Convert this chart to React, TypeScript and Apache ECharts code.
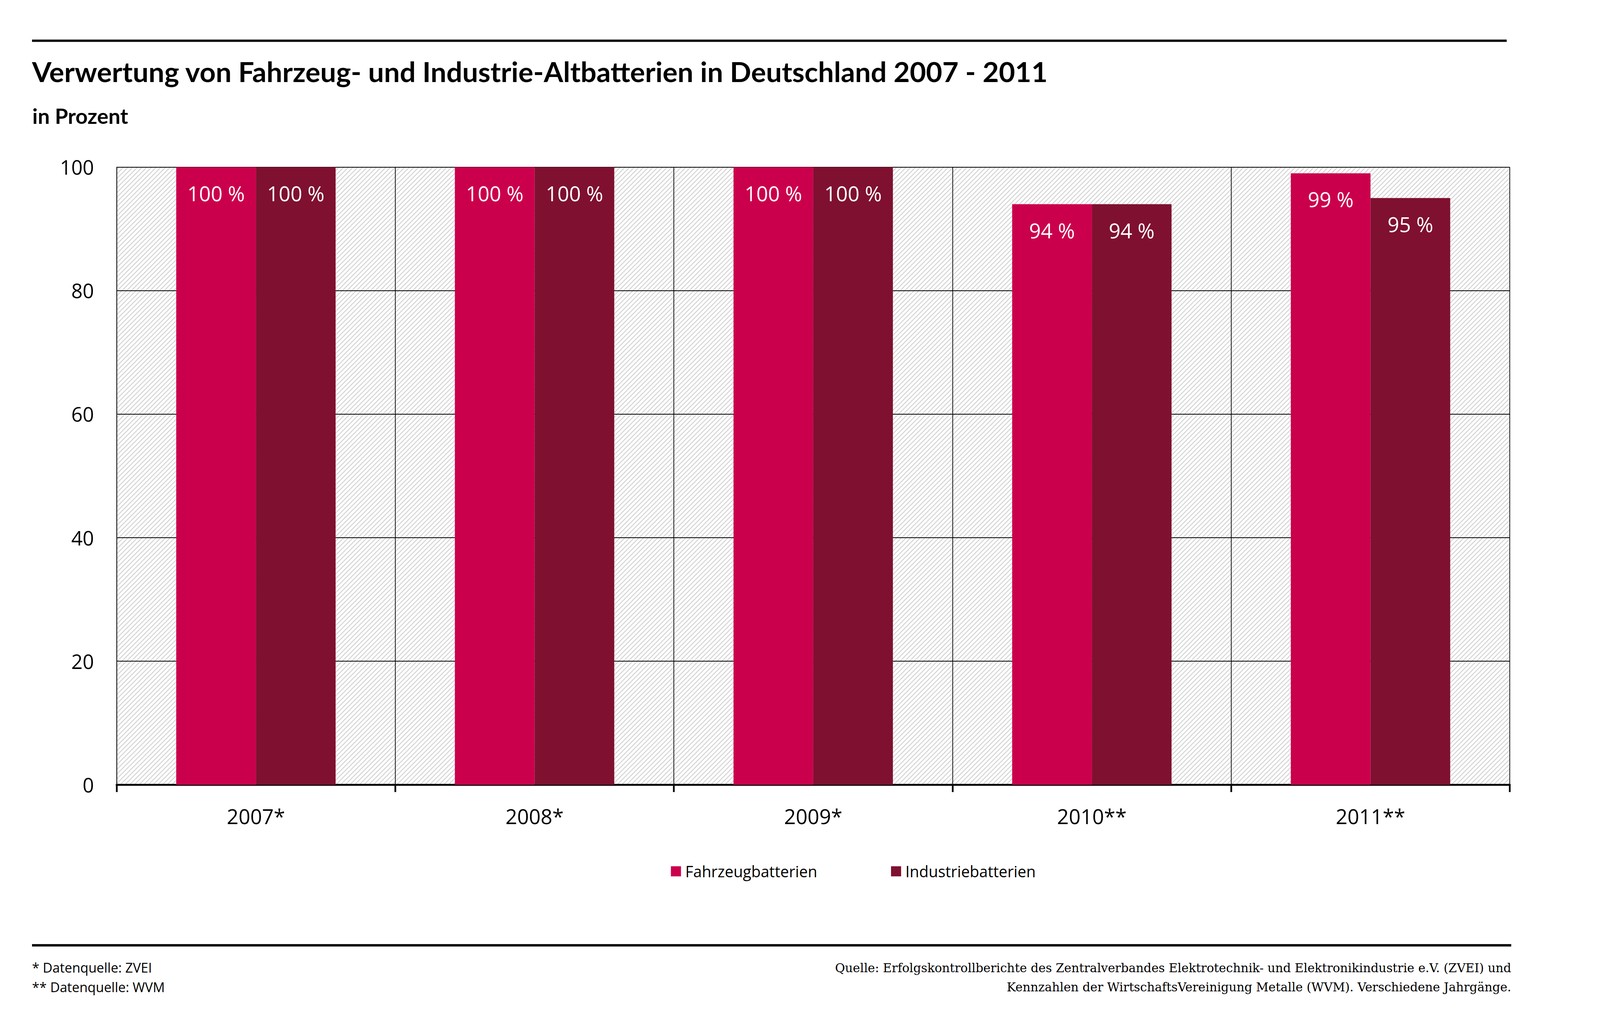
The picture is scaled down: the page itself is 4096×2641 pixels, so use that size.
import React, { useEffect, useRef } from "react";
import * as echarts from "echarts";

const categories = ["2007*", "2008*", "2009*", "2010**", "2011**"];
const fahrzeug = [100, 100, 100, 94, 99];
const industrie = [100, 100, 100, 94, 95];
const seriesNames = ["Fahrzeugbatterien", "Industriebatterien"];
const seriesColors = ["#CB004C", "#7F1030"];
const titleText = "Verwertung von Fahrzeug- und Industrie-Altbatterien in Deutschland 2007 - 2011";
const subtitleText = "in Prozent";
const footLeft = ["* Datenquelle: ZVEI", "** Datenquelle: WVM"];
const footRight = [
  "Quelle: Erfolgskontrollberichte des Zentralverbandes Elektrotechnik- und Elektronikindustrie e.V. (ZVEI) und",
  "Kennzahlen der WirtschaftsVereinigung Metalle (WVM). Verschiedene Jahrgänge.",
];
const yMin = 0;
const yMax = 100;
const yStep = 20;

const S = 0.891;
const s = (v: number) => v * S;

function makeHatch(): HTMLCanvasElement {
  const size = 12;
  const c = document.createElement("canvas");
  c.width = size;
  c.height = size;
  const ctx = c.getContext("2d")!;
  ctx.fillStyle = "#ffffff";
  ctx.fillRect(0, 0, size, size);
  ctx.strokeStyle = "#d4d4d4";
  ctx.lineWidth = 2.4;
  ctx.beginPath();
  ctx.moveTo(0, size);
  ctx.lineTo(size, 0);
  ctx.moveTo(-size / 2, size / 2);
  ctx.lineTo(size / 2, -size / 2);
  ctx.moveTo(size / 2, size * 1.5);
  ctx.lineTo(size * 1.5, size / 2);
  ctx.stroke();
  return c;
}

export default function App() {
  const ref = useRef<HTMLDivElement>(null);
  useEffect(() => {
    if (!ref.current) return;
    const chart = echarts.init(ref.current, undefined, { renderer: "svg" });
    const hatch = makeHatch();
    const gridLeft = s(335);
    const gridRight = s(4338);
    const gridTop = s(480);
    const gridBottom = s(2254);
    const font = "Open Sans";
    const labelStyle = {
      show: true,
      position: "insideTop",
      distance: 40,
      color: "#fff",
      fontFamily: font,
      fontSize: s(59),
      formatter: "{c} %",
    };
    const option: any = {
      animation: false,
      backgroundColor: "#ffffff",
      grid: {
        show: true,
        left: gridLeft,
        top: gridTop,
        width: gridRight - gridLeft,
        height: gridBottom - gridTop,
        borderWidth: 0,
        backgroundColor: { image: hatch, repeat: "repeat", imageWidth: 12, imageHeight: 12 },
        containLabel: false,
      },
      legend: {
        data: seriesNames,
        left: s(1922),
        top: s(2497.5) - 20,
        icon: "rect",
        itemWidth: s(29),
        itemHeight: s(29),
        itemGap: s(212),
        textStyle: {
          fontFamily: font,
          fontSize: s(44.3),
          color: "#000",
          padding: [0, 0, 0, 6],
        },
      },
      xAxis: {
        type: "category",
        data: categories,
        boundaryGap: true,
        axisLine: { show: true, lineStyle: { color: "#0a0a0a", width: s(5.5) } },
        axisTick: { show: true, length: s(21), lineStyle: { color: "#0a0a0a", width: s(5) } },
        splitLine: { show: true, lineStyle: { color: "#000", width: s(2) } },
        axisLabel: {
          fontFamily: font,
          fontSize: s(59),
          color: "#000",
          margin: 54,
        },
      },
      yAxis: {
        type: "value",
        min: yMin,
        max: yMax,
        interval: yStep,
        axisLine: { show: true, lineStyle: { color: "#000", width: s(2.2) } },
        axisTick: { show: false },
        splitLine: { show: true, lineStyle: { color: "#000", width: s(2) } },
        axisLabel: {
          fontFamily: font,
          fontSize: s(57),
          color: "#000",
          margin: s(65),
        },
      },
      series: [
        {
          name: seriesNames[0],
          type: "bar",
          data: fahrzeug,
          barGap: "0%",
          barCategoryGap: "42.8%",
          itemStyle: { color: seriesColors[0] },
          label: labelStyle,
        },
        {
          name: seriesNames[1],
          type: "bar",
          data: industrie,
          barGap: "0%",
          barCategoryGap: "42.8%",
          itemStyle: { color: seriesColors[1] },
          label: labelStyle,
        },
      ],
      graphic: [
        {
          type: "rect",
          shape: { x: s(92), y: s(117) - s(7) / 2, width: s(4329 - 92), height: s(7) },
          style: { fill: "#0a0a0a" },
        },
        {
          type: "rect",
          shape: { x: s(92), y: s(2715) - s(7) / 2, width: s(4342 - 92), height: s(7) },
          style: { fill: "#0a0a0a" },
        },
        {
          type: "text",
          x: s(92),
          y: s(204.5),
          style: {
            text: titleText,
            fontFamily: "Lato",
            fontWeight: "bold",
            fontSize: s(80.5),
            fill: "#000",
            align: "left",
            verticalAlign: "middle",
          },
        },
        {
          type: "text",
          x: s(93),
          y: s(332),
          style: {
            text: subtitleText,
            fontFamily: "Lato",
            fontWeight: "bold",
            fontSize: s(61),
            fill: "#000",
            align: "left",
            verticalAlign: "middle",
          },
        },
        {
          type: "text",
          x: s(92),
          y: s(2779),
          style: {
            text: footLeft[0],
            fontFamily: font,
            fontSize: s(38.3),
            fill: "#000",
            align: "left",
            verticalAlign: "middle",
          },
        },
        {
          type: "text",
          x: s(92),
          y: s(2835),
          style: {
            text: footLeft[1],
            fontFamily: font,
            fontSize: s(38.3),
            fill: "#000",
            align: "left",
            verticalAlign: "middle",
          },
        },
        {
          type: "text",
          x: s(4342),
          y: s(2779.5),
          style: {
            text: footRight[0],
            fontFamily: "DejaVu Serif",
            fontSize: s(34.9),
            fill: "#000",
            align: "right",
            verticalAlign: "middle",
          },
        },
        {
          type: "text",
          x: s(4342),
          y: s(2835.5),
          style: {
            text: footRight[1],
            fontFamily: "DejaVu Serif",
            fontSize: s(34.9),
            fill: "#000",
            align: "right",
            verticalAlign: "middle",
          },
        },
      ],
    };
    chart.setOption(option);
    return () => chart.dispose();
  }, []);
  return (
    <div
      ref={ref}
      style={{ position: "absolute", left: 0, top: 0, width: 4096, height: 2641, background: "#fff" }}
    />
  );
}
